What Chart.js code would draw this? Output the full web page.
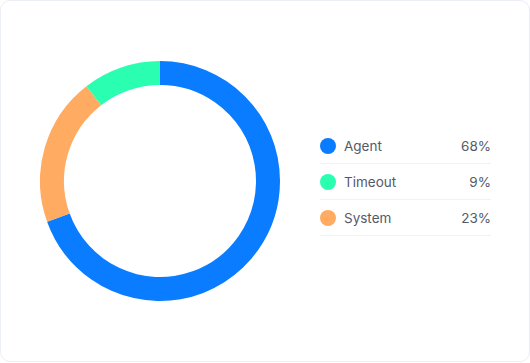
<!DOCTYPE html>
<html lang="en">
<head>
  <meta charset="UTF-8">
  <title>Session End Reasons</title>
  <style>
    * {
      margin: 0;
      padding: 0;
      box-sizing: border-box;
      font-family: 'Inter', sans-serif;
    }

    body {
      background: #ffffff;
      width: 530px;
      height: 363px;
      overflow: hidden;
    }

    .card {
      position: absolute;
      left: 0;
      top: 0;
      width: 530px;
      height: 362px;
      border: 1px solid #eceef5;
      border-radius: 10px;
      background: #ffffff;
    }

    .chart-box {
      position: absolute;
      left: 39px;
      top: 60px;
      width: 240px;
      height: 240px;
    }

    .legend {
      position: absolute;
      left: 319px;
      top: 127px;
      width: 171px;
      list-style: none;
    }

    .legend li {
      display: flex;
      align-items: center;
      height: 36px;
      border-bottom: 1.5px solid #f1f2f8;
      color: #545a67;
      font-size: 13.5px;
    }

    .legend .dot {
      width: 16px;
      height: 16px;
      border-radius: 50%;
      margin-right: 8px;
    }

    .legend .name {
      flex: 1;
    }

    .legend .pct {
      text-align: right;
    }
  </style>
</head>
<body>
  <div class="card">
    <div class="chart-box">
      <canvas id="reasonChart" width="240" height="240"></canvas>
    </div>
    <ul class="legend" id="legend"></ul>
  </div>

  <script src="https://cdn.jsdelivr.net/npm/chart.js"></script>
  <script>
    // legend order
    const labels = ['Agent', 'Timeout', 'System'];
    const percentText = ['68%', '9%', '23%'];
    const colors = ['#0a7cff', '#2affb1', '#ffab62'];

    // ring drawn clockwise from the top: Agent, System, Timeout
    const ringOrder = [0, 2, 1];
    const ringValues = [69.5, 20, 10.5];

    const legend = document.getElementById('legend');
    labels.forEach((name, i) => {
      const li = document.createElement('li');
      li.innerHTML = '<span class="dot" style="background:' + colors[i] + '"></span>' +
        '<span class="name">' + name + '</span>' +
        '<span class="pct">' + percentText[i] + '</span>';
      legend.appendChild(li);
    });

    const ctx = document.getElementById('reasonChart').getContext('2d');
    new Chart(ctx, {
      type: 'doughnut',
      data: {
        labels: ringOrder.map(i => labels[i]),
        datasets: [{
          data: ringValues,
          backgroundColor: ringOrder.map(i => colors[i]),
          borderWidth: 0
        }]
      },
      options: {
        responsive: false,
        animation: false,
        cutout: '80%',
        layout: { padding: 0 },
        plugins: {
          legend: { display: false },
          tooltip: { enabled: false }
        }
      }
    });
  </script>
</body>
</html>
